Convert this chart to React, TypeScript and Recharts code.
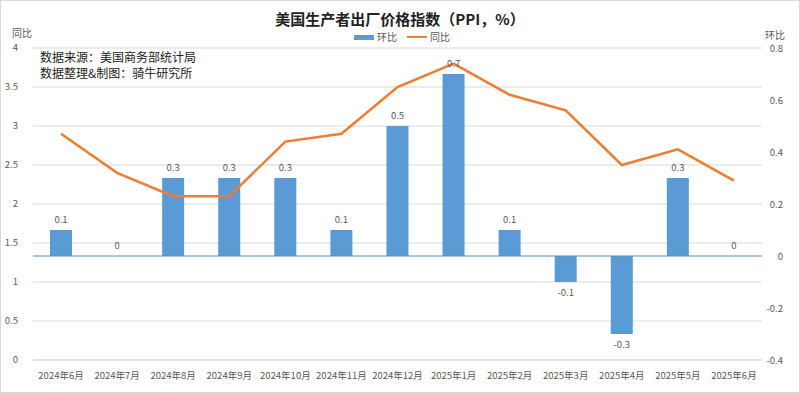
import * as React from 'react';
import {
  ComposedChart, Bar, Line, XAxis, YAxis, CartesianGrid, ReferenceLine, LabelList
} from 'recharts';

const months = [
  '2024年6月', '2024年7月', '2024年8月', '2024年9月', '2024年10月', '2024年11月', '2024年12月',
  '2025年1月', '2025年2月', '2025年3月', '2025年4月', '2025年5月', '2025年6月'
];
const mom = [0.1, 0, 0.3, 0.3, 0.3, 0.1, 0.5, 0.7, 0.1, -0.1, -0.3, 0.3, 0];
const yoy = [2.9, 2.4, 2.1, 2.1, 2.8, 2.9, 3.5, 3.8, 3.4, 3.2, 2.5, 2.7, 2.3];
const leftTicks = [0, 0.5, 1, 1.5, 2, 2.5, 3, 3.5, 4];
const rightTicks = [-0.4, -0.2, 0, 0.2, 0.4, 0.6, 0.8];

const FONT = '"Noto Sans CJK SC", "Noto Sans", sans-serif';
const BLUE = '#5b9bd5';
const ORANGE = '#ed7d31';
const GRAY = '#595959';

const data = months.map((m, i) => ({ name: m, 环比: mom[i], 同比: yoy[i] }));

function RightTick(props: any) {
  return (
    <text x={783} y={props.y} dy={4} textAnchor="end" fontSize={9.5} fill={GRAY} fontFamily={FONT}>
      {props.payload.value}
    </text>
  );
}

// labels placed at the bar's end point (taken from an invisible line on the same axis)
function BarLabel(props: any) {
  const { x, y, value } = props;
  return (
    <text x={x} y={value < 0 ? y + 14 : y - 7} textAnchor="middle" fontSize={9.5} fill={GRAY} fontFamily={FONT}>
      {value}
    </text>
  );
}

export default function App() {
  const abs = (s: React.CSSProperties): React.CSSProperties => ({ position: 'absolute', fontFamily: FONT, whiteSpace: 'nowrap', ...s });
  return (
    <div style={{ position: 'absolute', left: 0, top: 0, width: 800, height: 393, background: '#fff' }}>
      <ComposedChart width={800} height={393} data={data}
        margin={{ top: 48, right: 0, bottom: 0, left: 0 }} barSize={22}>
        <CartesianGrid yAxisId="left" vertical={false} stroke="#d9d9d9" />
        <XAxis dataKey="name" height={33} tickLine={false} axisLine={{ stroke: '#d9d9d9' }}
          tick={{ fontSize: 9.5, fill: GRAY, fontFamily: FONT }} tickMargin={6} interval={0} />
        <YAxis yAxisId="left" width={33} domain={[0, 4]} ticks={leftTicks} axisLine={false}
          tickLine={false} tick={{ fontSize: 9.5, fill: GRAY, fontFamily: FONT }} tickMargin={9} />
        <YAxis yAxisId="right" orientation="right" width={38} domain={[-0.4, 0.8]} ticks={rightTicks}
          axisLine={false} tickLine={false} tick={<RightTick />} />
        <ReferenceLine yAxisId="right" y={0} stroke="#5a8fba" strokeWidth={1.2} />
        <Bar yAxisId="right" dataKey="环比" fill={BLUE} isAnimationActive={false} />
        <Line yAxisId="right" dataKey="环比" stroke="none" dot={false} activeDot={false}
          legendType="none" isAnimationActive={false}>
          <LabelList dataKey="环比" content={<BarLabel />} />
        </Line>
        <Line yAxisId="left" type="linear" dataKey="同比" stroke={ORANGE} strokeWidth={2.5}
          dot={false} isAnimationActive={false} />
      </ComposedChart>

      <div style={abs({ left: 0, width: 800, top: 8, textAlign: 'center', fontSize: 15, fontWeight: 700, color: '#222' })}>
        美国生产者出厂价格指数（PPI，%）
      </div>
      <div style={abs({ left: 12, top: 27, fontSize: 10, lineHeight: '11px', color: GRAY })}>同比</div>
      <div style={abs({ left: 765, top: 29, fontSize: 10, lineHeight: '11px', color: GRAY })}>环比</div>
      <div style={abs({ left: 354, top: 31, fontSize: 10, lineHeight: '12px', color: GRAY, display: 'flex', alignItems: 'center' })}>
        <span style={{ display: 'inline-block', width: 20, height: 5, background: BLUE, marginRight: 3 }} />
        <span>环比</span>
        <span style={{ display: 'inline-block', width: 20, height: 2.5, background: ORANGE, margin: '0 3px 0 10px' }} />
        <span>同比</span>
      </div>
      <div style={abs({ left: 40, top: 49, fontSize: 12, lineHeight: '16px', color: '#222' })}>
        数据来源：美国商务部统计局<br />数据整理&amp;制图：骑牛研究所
      </div>
      <div style={{ position: 'absolute', left: 0, top: 0, width: 798, height: 391, border: '1px solid #d9d9d9', pointerEvents: 'none' }} />
    </div>
  );
}
